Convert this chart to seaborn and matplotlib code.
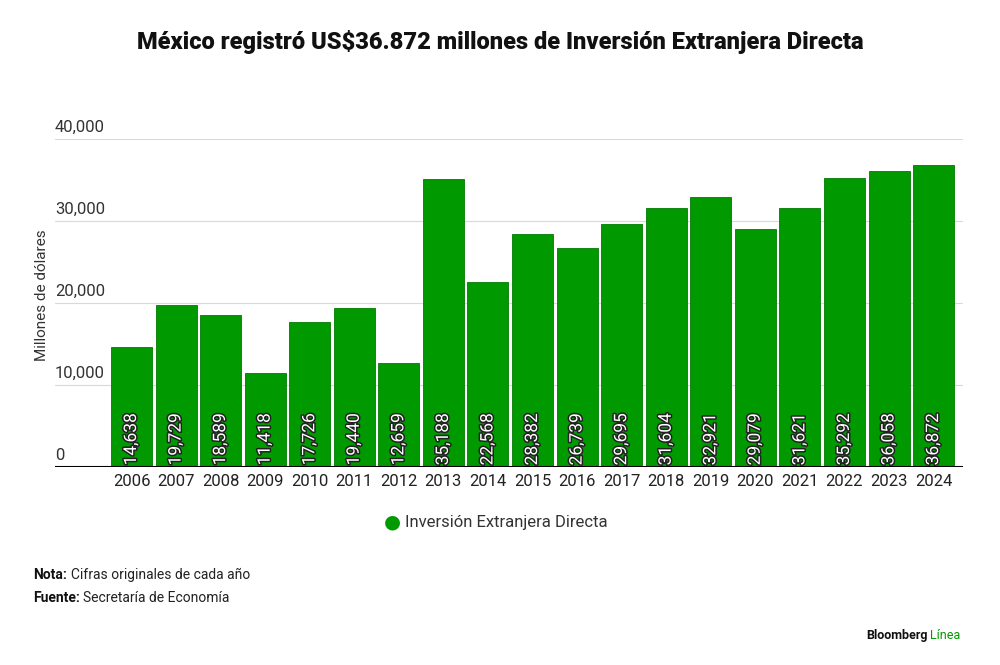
import matplotlib
matplotlib.use("Agg")
import matplotlib.pyplot as plt
import matplotlib.patheffects as pe
import seaborn as sns
import pandas as pd

years = [str(y) for y in range(2006, 2025)]
ied = [14638, 19729, 18589, 11418, 17726, 19440, 12659, 35188, 22568, 28382,
       26739, 29695, 31604, 32921, 29079, 31621, 35292, 36058, 36872]
y_ticks = [0, 10000, 20000, 30000, 40000]
y_tick_labels = ["0", "10,000", "20,000", "30,000", "40,000"]

GREEN = "#009a00"

sns.set_theme(style="white")
plt.rcParams["font.family"] = ["Roboto", "DejaVu Sans"]

df = pd.DataFrame({"Año": years, "IED": ied})

fig = plt.figure(figsize=(10, 6.65), dpi=100)
ax = fig.add_axes([0.055, 0.2977, 0.908, 0.4932])

sns.barplot(data=df, x="Año", y="IED", color=GREEN, saturation=1, width=0.92,
            edgecolor="#007a00", linewidth=0.6, ax=ax, zorder=3)

ax.set_xlim(-1.717, 18.66)
ax.set_ylim(0, 40000)

# gridlines and labels sitting above them
for v, lab in zip(y_ticks, y_tick_labels):
    if v > 0:
        ax.axhline(v, color="#d9d9d9", lw=0.8, zorder=1)
    ax.text(0, v + 500, lab, transform=ax.get_yaxis_transform(), ha="left",
            va="bottom", fontsize=12, color="#333333")
ax.axhline(0, color="black", lw=1.5, zorder=4)
ax.set_yticks([])
ax.set_ylabel("")
ax.set_xlabel("")
ax.tick_params(axis="x", length=0, labelsize=12, labelcolor="#222222", pad=5)
sns.despine(ax=ax, left=True, bottom=True, top=True, right=True)

# value labels inside bars
for i, v in enumerate(ied):
    ax.text(i, 200, f"{v:,}", rotation=90, ha="center", va="bottom",
            fontsize=12.5, color="white",
            path_effects=[pe.withStroke(linewidth=2.2, foreground="#222222")],
            zorder=5)

fig.text(0.042, 0.556, "Millones de dólares", rotation=90, ha="center",
         va="center", fontsize=11, color="#333333")

fig.text(0.5, 0.937, "México registró US$36.872 millones de Inversión Extranjera Directa",
         ha="center", va="center", fontsize=17, fontweight="black", color="#111111")

# legend
fig.text(0.392, 0.215, "●", ha="center", va="center", fontsize=14, color=GREEN)
fig.text(0.405, 0.215, "Inversión Extranjera Directa", ha="left", va="center",
         fontsize=12, color="#333333")

fig.text(0.033, 0.135, "Nota:", ha="left", va="center", fontsize=10,
         fontweight="bold", color="#111111")
fig.text(0.071, 0.135, "Cifras originales de cada año", ha="left", va="center",
         fontsize=10, color="#222222")
fig.text(0.033, 0.1, "Fuente:", ha="left", va="center", fontsize=10,
         fontweight="bold", color="#111111")
fig.text(0.083, 0.1, "Secretaría de Economía", ha="left", va="center",
         fontsize=10, color="#222222")

fig.text(0.9275, 0.044, "Bloomberg", ha="right", va="center", fontsize=9,
         fontweight="bold", color="#111111")
fig.text(0.93, 0.044, "Línea", ha="left", va="center", fontsize=9,
         color=GREEN)

fig.savefig("out.png", dpi=100)
